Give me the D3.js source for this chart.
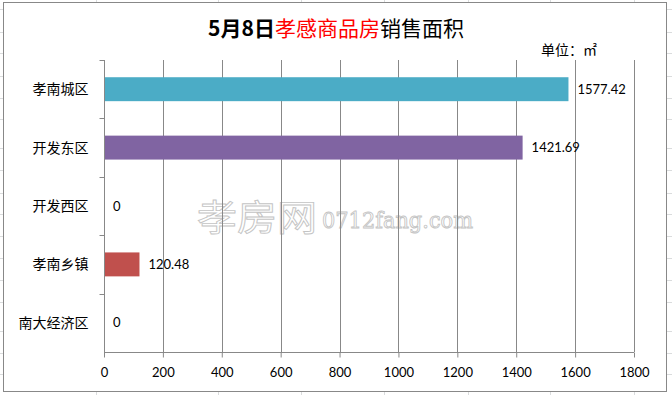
<!DOCTYPE html>
<html lang="zh">
<head>
  <meta charset="UTF-8">
  <title>销售面积</title>
  <script src="https://cdn.jsdelivr.net/npm/d3@7"></script>
  <style>
    body { margin:0; background:#fff; }
    svg { display:block; }
  </style>
</head>
<body>
  <svg width="672" height="395"></svg>
  <script>
    const districts = ['孝南城区', '开发东区', '开发西区', '孝南乡镇', '南大经济区']
    const areas = [1577.42, 1421.69, 0, 120.48, 0]
    const barColors = ['#4bacc6', '#8064a2', '#8064a2', '#c0504d', '#4bacc6']
    const xTicks = [0, 200, 400, 600, 800, 1000, 1200, 1400, 1600, 1800]

    const width = 672
    const height = 395
    const margin = {top: 60, right: 38, bottom: 43, left: 104}
    const svg = d3.select('svg')
    const cjk = '"Noto Sans CJK SC", sans-serif'
    const num = 'Lato, "Open Sans", sans-serif'

    // spreadsheet cell lines behind the chart
    const bg = svg.append('g').attr('stroke', '#dadcdd').attr('stroke-width', 1)
    ;[96, 218, 301, 384, 468, 550, 634].forEach(x => {
      bg.append('line').attr('x1', x + 0.5).attr('x2', x + 0.5).attr('y1', 0).attr('y2', height)
    })
    ;[9, 32, 53, 76, 98, 119, 148, 170, 193, 214, 236, 258, 280, 302, 331, 353, 374].forEach(y => {
      bg.append('line').attr('x1', 0).attr('x2', width).attr('y1', y + 0.5).attr('y2', y + 0.5)
    })

    // chart frame
    svg.append('rect')
      .attr('x', 3.5).attr('y', 2.5)
      .attr('width', 663).attr('height', 389)
      .attr('fill', '#fff').attr('stroke', '#888').attr('stroke-width', 1)

    const x = d3.scaleLinear()
      .domain([0, 1800])
      .range([margin.left, width - margin.right])
    const y = d3.scaleBand()
      .domain(districts)
      .range([margin.top, height - margin.bottom])
      .paddingInner(0.59)
      .paddingOuter(0.295)
    const yb = d3.scaleBand()
      .domain(districts)
      .range([margin.top, height - margin.bottom])

    // watermark (outlined text)
    const wm = svg.append('g')
      .attr('fill', 'none').attr('stroke', '#c4c4c4').attr('stroke-width', 0.9)
    wm.append('text')
      .attr('x', 197).attr('y', 231)
      .attr('font-family', cjk).attr('font-size', 36)
      .attr('textLength', 120).attr('lengthAdjust', 'spacingAndGlyphs')
      .text('孝房网')
    wm.append('text')
      .attr('x', 322).attr('y', 228)
      .attr('font-family', '"DejaVu Serif", serif').attr('font-size', 22)
      .attr('textLength', 151).attr('lengthAdjust', 'spacingAndGlyphs')
      .text('0712fang.com')

    // vertical gridlines
    svg.append('g')
      .selectAll('line')
      .data(xTicks.slice(1))
      .enter()
      .append('line')
      .attr('x1', d => Math.round(x(d)) + 0.5)
      .attr('x2', d => Math.round(x(d)) + 0.5)
      .attr('y1', margin.top)
      .attr('y2', height - margin.bottom)
      .attr('stroke', '#888')

    // bars
    svg.append('g')
      .selectAll('rect')
      .data(districts)
      .enter()
      .append('rect')
      .attr('x', x(0))
      .attr('y', d => y(d))
      .attr('width', (d, i) => x(areas[i]) - x(0))
      .attr('height', y.bandwidth())
      .attr('fill', (d, i) => barColors[i])

    // value labels
    svg.append('g')
      .selectAll('text')
      .data(districts)
      .enter()
      .append('text')
      .attr('x', (d, i) => x(areas[i]) + 9)
      .attr('y', d => y(d) + y.bandwidth() / 2)
      .attr('dy', '0.35em')
      .attr('font-family', num)
      .attr('font-size', 13)
      .attr('fill', '#000')
      .text((d, i) => areas[i] === 0 ? '0' : areas[i].toFixed(2))

    // x axis
    const xAxis = d3.axisBottom(x)
      .tickValues(xTicks)
      .tickFormat(d3.format('d'))
      .tickSize(5)
      .tickPadding(10)
    const gx = svg.append('g')
      .attr('transform', 'translate(0,' + (height - margin.bottom + 0.5) + ')')
      .call(xAxis)
    gx.select('.domain').attr('stroke', '#888').attr('d', 'M' + x(0) + ',0H' + x(1800))
    gx.selectAll('.tick line').attr('stroke', '#888')
    gx.selectAll('.tick text').attr('font-family', num).attr('font-size', 13).attr('fill', '#000')

    // y axis with ticks at category boundaries
    const gy = svg.append('g')
      .attr('transform', 'translate(' + (margin.left + 0.5) + ',0)')
    gy.append('line')
      .attr('x1', 0).attr('x2', 0)
      .attr('y1', margin.top).attr('y2', height - margin.bottom + 5)
      .attr('stroke', '#888')
    gy.selectAll('line.tk')
      .data(districts)
      .enter()
      .append('line')
      .attr('class', 'tk')
      .attr('x1', -5).attr('x2', 0)
      .attr('y1', d => Math.round(yb(d)) + 0.5)
      .attr('y2', d => Math.round(yb(d)) + 0.5)
      .attr('stroke', '#888')
    gy.selectAll('text')
      .data(districts)
      .enter()
      .append('text')
      .attr('x', -16)
      .attr('y', d => yb(d) + yb.bandwidth() / 2)
      .attr('dy', '0.35em')
      .attr('text-anchor', 'end')
      .attr('font-family', cjk)
      .attr('font-size', 14)
      .attr('fill', '#000')
      .text(d => d)

    // title
    const title = svg.append('text')
      .attr('x', 336).attr('y', 36)
      .attr('text-anchor', 'middle')
      .attr('font-family', cjk)
      .attr('font-size', 21)
      .attr('font-weight', 'bold')
    title.append('tspan').attr('fill', '#000').text('5月8日')
    title.append('tspan').attr('fill', '#ff0000').attr('font-weight', 'normal').text('孝感商品房')
    title.append('tspan').attr('fill', '#000').attr('font-weight', 'normal').text('销售面积')

    svg.append('text')
      .attr('x', 541).attr('y', 55)
      .attr('font-family', cjk)
      .attr('font-size', 14)
      .attr('fill', '#000')
      .text('单位：㎡')
  </script>
</body>
</html>
